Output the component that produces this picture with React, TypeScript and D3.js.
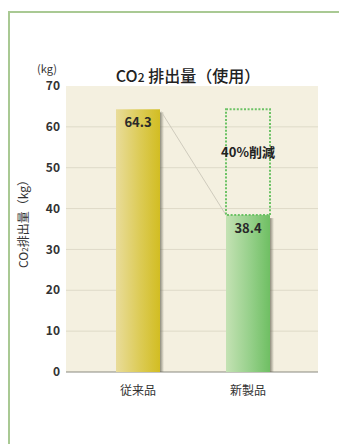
import React from "react";
import * as d3 from "d3";

const categories = ["従来品", "新製品"];
const values = [64.3, 38.4];
const yTicks = [0, 10, 20, 30, 40, 50, 60, 70];
const reductionLabel = "40%削減";

const W = 339;
const H = 444;
const plot = { left: 66, right: 318, top: 86, bottom: 372 };
const FONT = "'Noto Sans CJK JP', 'Noto Sans', sans-serif";

export default function App() {
  const y = d3.scaleLinear().domain([0, 70]).range([plot.bottom, plot.top]);
  const x = d3
    .scaleBand<string>()
    .domain(categories)
    .range([83, 303])
    .paddingInner(0.6)
    .paddingOuter(0.3);
  const bw = x.bandwidth();

  const x0 = x(categories[0])!;
  const x1 = x(categories[1])!;

  return (
    <svg
      width={W}
      height={H}
      style={{ position: "absolute", left: 0, top: 0, background: "#fff" }}
      fontFamily={FONT}
    >
      <defs>
        <linearGradient id="gOld" x1="0" x2="1" y1="0" y2="0">
          <stop offset="0" stopColor="#e9dc9a" />
          <stop offset="0.55" stopColor="#dccb55" />
          <stop offset="1" stopColor="#d2bd22" />
        </linearGradient>
        <linearGradient id="gNew" x1="0" x2="1" y1="0" y2="0">
          <stop offset="0" stopColor="#c4e2b4" />
          <stop offset="0.55" stopColor="#96d08a" />
          <stop offset="1" stopColor="#6fbf63" />
        </linearGradient>
        <linearGradient id="shadow" x1="0" x2="1" y1="0" y2="0">
          <stop offset="0" stopColor="#6b6a5a" stopOpacity="0.75" />
          <stop offset="1" stopColor="#6b6a5a" stopOpacity="0" />
        </linearGradient>
      </defs>

      {/* frame */}
      <line x1={9} x2={W} y1={12} y2={12} stroke="#a9c993" strokeWidth={2} />
      <line x1={9} x2={9} y1={11} y2={H} stroke="#a9c993" strokeWidth={2} />

      {/* plot background */}
      <rect
        x={plot.left}
        y={plot.top}
        width={plot.right - plot.left}
        height={plot.bottom - plot.top}
        fill="#f4f0e0"
      />

      {/* grid lines */}
      {yTicks
        .filter((t) => t > 0 && t < 70)
        .map((t) => (
          <line
            key={t}
            x1={plot.left}
            x2={plot.right}
            y1={y(t)}
            y2={y(t)}
            stroke="#dedac8"
            strokeWidth={1}
          />
        ))}

      {/* axis line */}
      <line
        x1={plot.left}
        x2={plot.right}
        y1={plot.bottom}
        y2={plot.bottom}
        stroke="#8a8a80"
        strokeWidth={1.2}
      />

      {/* y tick labels */}
      {yTicks.map((t) => (
        <text
          key={t}
          x={60}
          y={y(t)}
          dy="0.35em"
          textAnchor="end"
          fontSize={12}
          fontWeight={600}
          fill="#333"
        >
          {t}
        </text>
      ))}
      <text x={47} y={73} textAnchor="middle" fontSize={11} fill="#333">
        (kg)
      </text>

      {/* y axis title */}
      <text
        transform={`translate(28,${(plot.top + plot.bottom) / 2 - 8}) rotate(-90)`}
        textAnchor="middle"
        fontSize={12}
        fill="#333"
      >
        CO<tspan fontSize={8}>2</tspan>排出量（kg）
      </text>

      {/* chart title */}
      <text x={188} y={82} textAnchor="middle" fontSize={16} fontWeight={500} fill="#222">
        CO<tspan fontSize={12}>2</tspan> 排出量（使用）
      </text>

      {/* bars with right-side shadow */}
      {categories.map((c, i) => {
        const bx = x(c)!;
        const by = y(values[i]);
        return (
          <g key={c}>
            <rect
              x={bx + bw}
              y={by + 3}
              width={4}
              height={plot.bottom - by - 3}
              fill="url(#shadow)"
            />
            <rect
              x={bx}
              y={by}
              width={bw}
              height={plot.bottom - by}
              fill={i === 0 ? "url(#gOld)" : "url(#gNew)"}
            />
          </g>
        );
      })}

      {/* connector from old top to new top */}
      <line
        x1={x0 + bw + 1}
        y1={y(values[0]) + 2}
        x2={x1}
        y2={y(values[1])}
        stroke="#cfcbbd"
        strokeWidth={1}
      />

      {/* dotted box showing the reduced amount */}
      <rect
        x={x1}
        y={y(values[0])}
        width={bw}
        height={y(values[1]) - y(values[0])}
        fill="none"
        stroke="#6cc265"
        strokeWidth={2}
        strokeDasharray="2,1.6"
      />
      <text
        x={x1 + bw / 2}
        y={(y(values[0]) + y(values[1])) / 2 - 10}
        dy="0.35em"
        textAnchor="middle"
        fontSize={13}
        fontWeight={700}
        fill="#222"
      >
        {reductionLabel}
      </text>

      {/* value labels */}
      {categories.map((c, i) => (
        <text
          key={c}
          x={x(c)! + bw / 2}
          y={y(values[i]) + 13}
          dy="0.35em"
          textAnchor="middle"
          fontSize={13}
          fontWeight={600}
          fill="#2a2a2a"
        >
          {values[i].toFixed(1)}
        </text>
      ))}

      {/* category labels */}
      {categories.map((c) => (
        <text
          key={c}
          x={x(c)! + bw / 2}
          y={plot.bottom + 19}
          dy="0.35em"
          textAnchor="middle"
          fontSize={12}
          fill="#333"
        >
          {c}
        </text>
      ))}
    </svg>
  );
}
